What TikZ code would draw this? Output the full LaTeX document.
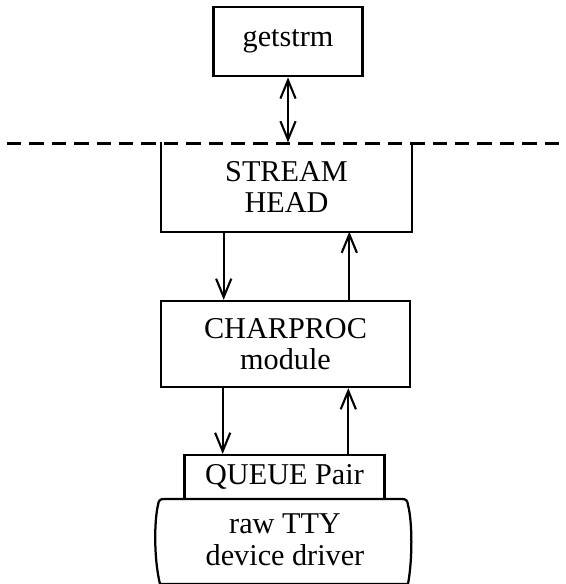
\documentclass[tikz,border=0pt]{standalone}
\usepackage{fontspec}
\setmainfont{Liberation Serif}
\usetikzlibrary{arrows.meta,calc}

\begin{document}
\begin{tikzpicture}[x=0.25mm,y=-0.25mm,line width=1.6pt,
    box/.style={draw,inner sep=0pt,align=center,font=\fontsize{21.5}{22.5}\selectfont},
    tip/.tip={Straight Barb[length=4.6mm,width=3.8mm,line width=1.5pt]},
    flow/.style={-tip}]
  \useasboundingbox (0,0) rectangle (565,584);
  \node[box,minimum width=37.25mm,minimum height=17.4mm] (get) at (288,41.5) {getstrm};
  \node[box,draw=none,minimum width=62.25mm,minimum height=21.75mm] (head) at (286.5,187) {STREAM\\HEAD};
  \node[box,minimum width=62.25mm,minimum height=21.5mm] (cp) at (285.5,344) {CHARPROC\\module};
  \node[box,minimum width=50mm,minimum height=11mm] (qp) at (284.5,477) {QUEUE Pair};
  \node[box,draw=none] (drv) at (285,540) {raw TTY\\device driver};
  \draw (head.north west) -- (head.south west) -- (head.south east) -- (head.north east);
  \draw[dash pattern=on 3.6mm off 2mm] (7,143.5) -- (565,143.5);
  \draw (160,584) .. controls (154,560) and (154,522) .. (158,505)
    .. controls (158.5,500.5) and (160,499) .. (164,499) -- (402,499)
    .. controls (406,499) and (407.5,500.5) .. (408,505)
    .. controls (412.5,522) and (412.5,560) .. (408,584) -- cycle;
  \draw[tip-tip] (get.south) -- (get.south |- head.north);
  \foreach \up/\dn in {head/cp,cp/qp}{
    \coordinate (\up l) at ($(\up.south west)!.25!(\up.south east)$);
    \coordinate (\up r) at ($(\up.south west)!.75!(\up.south east)$);
    \draw[flow] (\up l) -- (\up l |- \dn.north);
    \draw[flow] (\up r |- \dn.north) -- (\up r);
  }
\end{tikzpicture}
\end{document}
